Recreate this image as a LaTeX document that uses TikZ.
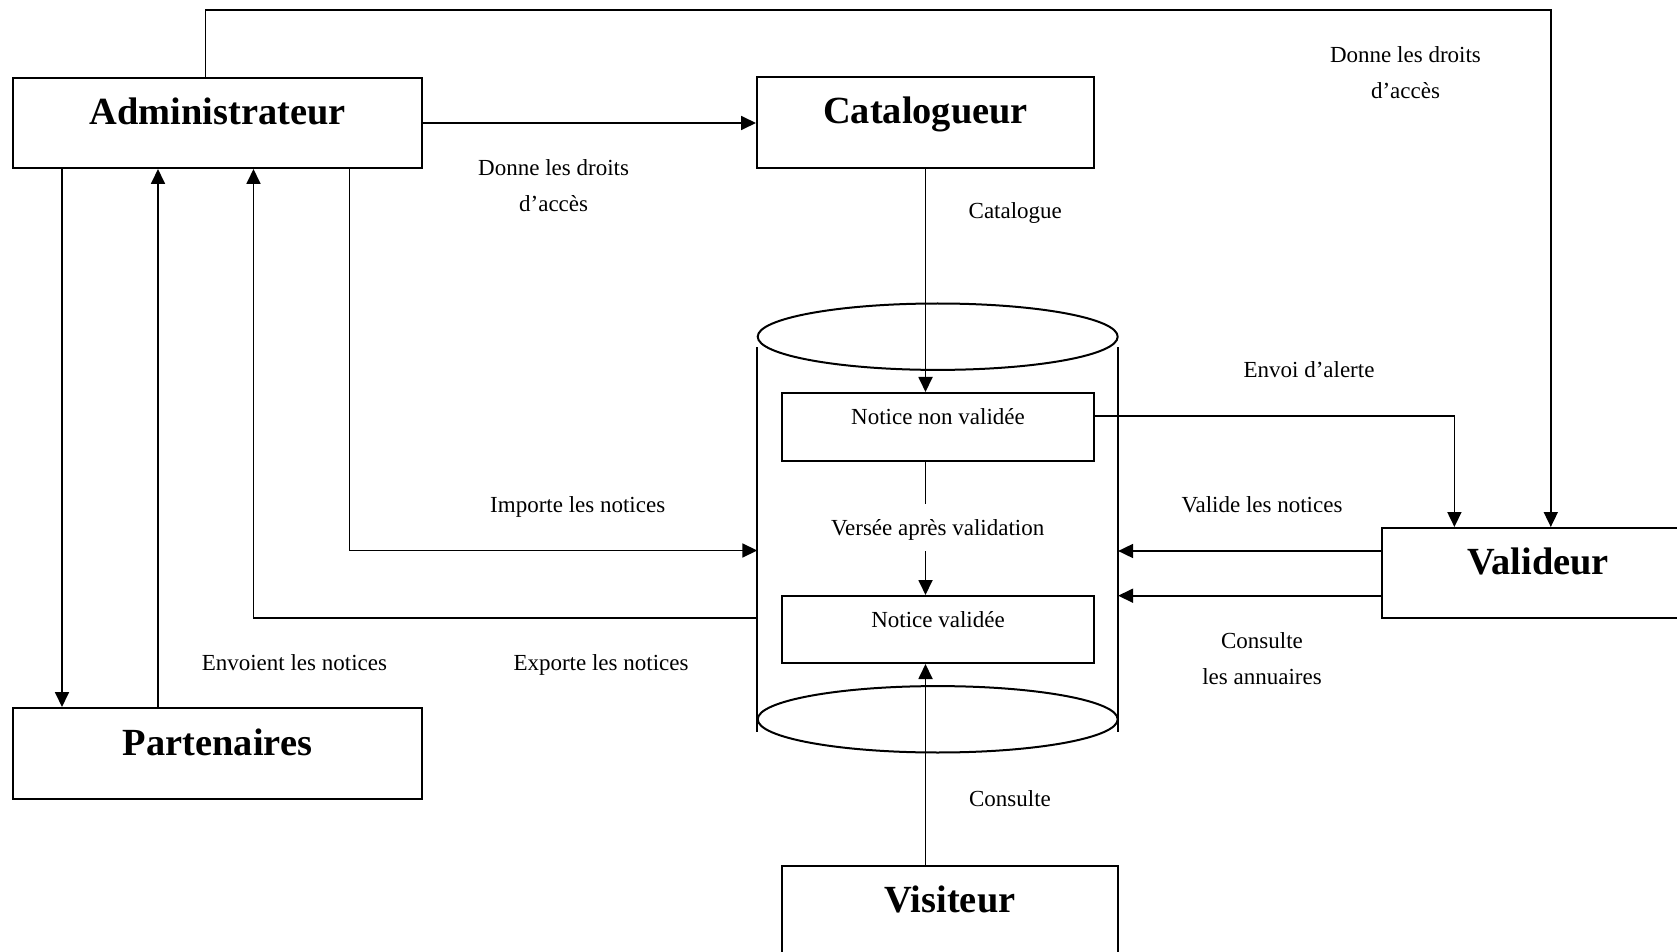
\documentclass[tikz,border=0pt]{standalone}
\usepackage{fontspec}
\setmainfont{Liberation Serif}
\usetikzlibrary{arrows.meta}
\begin{document}
\begin{tikzpicture}[x=0.5pt,y=-0.5pt,
  >={Triangle[length=7.5pt,width=7pt]},
  actor/.style={draw,line width=1pt,inner sep=0pt,
    font=\fontsize{19.2pt}{23pt}\selectfont\bfseries,
    text height=7.5pt,text depth=6pt},
  store/.style={draw,line width=1pt,inner sep=0pt,
    font=\fontsize{11.5pt}{14pt}\selectfont,
    text height=4pt,text depth=6.5pt,minimum width=156pt},
  lbl/.style={font=\fontsize{11.5pt}{18pt}\selectfont,inner sep=0pt,
    anchor=base,align=center},
  link/.style={line width=0.9pt}]
\useasboundingbox (0,0) rectangle (1677,952);

% actors
\node[actor,minimum width=204.5pt,minimum height=45pt] (admin) at (217.5,123) {Administrateur};
\node[actor,minimum width=168.5pt,minimum height=45.5pt] (catal) at (925.5,122.5) {Catalogueur};
\node[actor,minimum width=204.5pt,minimum height=45.5pt] (part) at (217.5,753.5) {Partenaires};
\node[actor,minimum width=156pt,minimum height=45pt] (valid) at (1538,573) {Valideur};
\node[actor,minimum width=168pt,minimum height=45pt] (visit) at (950,911) {Visiteur};

% database cylinder
\node[minimum width=180pt,minimum height=192pt,inner sep=0pt] (db) at (937.7,539.7) {};
\draw[line width=1pt] (937.7,336.7) ellipse [x radius=90pt,y radius=16.6pt];
\draw[line width=1pt] (937.7,719.3) ellipse [x radius=90pt,y radius=16.6pt];
\draw[line width=1pt] (db.north west) -- (db.south west);
\draw[line width=1pt] (db.north east) -- (db.south east);

% records inside the store
\node[store,minimum height=34pt] (nnv) at (938,427) {Notice non validée};
\node[store,minimum height=33.5pt] (nv) at (938,629.5) {Notice validée};
\node[lbl,text height=15.5pt,text depth=7.85pt] (vers) at (937.7,535.3) {Versée après validation};

% flows
\coordinate (ceil) at (0,10);
\coordinate (vtop) at ([xshift=6.4pt]valid.north);
\draw[link,->] ([xshift=-6pt]admin.north) |- (ceil -| vtop) -- (vtop);
\draw[link,->] (admin.east) -- (admin.east -| catal.west);
\draw[link,->] ([xshift=-77.75pt]admin.south) -- ([xshift=-77.75pt]admin.south |- part.north);
\draw[link,->] ([xshift=-29.75pt]part.north) -- ([xshift=-29.75pt]part.north |- admin.south);
\draw[link,->] ([yshift=-39.3pt]db.west) -| ([xshift=18pt]admin.south);
\draw[link,->] ([xshift=66pt]admin.south) |- ([yshift=-5.4pt]db.west);
\draw[link,->] (catal.south) -- (catal.south |- nnv.north);
\draw[link] (catal.south |- nnv.south) -- (catal.south |- vers.north);
\draw[link,->] (catal.south |- vers.south) -- (catal.south |- nv.north);
\draw[link,->] (catal.south |- visit.north) -- (catal.south |- nv.south);
\draw[link,->] ([yshift=5.65pt]nnv.east) -| ([xshift=-41.8pt]valid.north);
\draw[link,->] ([yshift=11pt]valid.west) -- ([yshift=11pt]valid.west -| db.east);
\draw[link,->] ([yshift=-11.35pt]valid.west) -- ([yshift=-11.35pt]valid.west -| db.east);

% flow labels (two-line labels sit on the baseline of their last line)
\node[lbl] (lac) at (553.6,211.7) {Donne les droits\\d’accès};
\node[lbl] (lav) at (1405.5,98.3) {Donne les droits\\d’accès};
\node[lbl] (lcat) at (1015.3,219) {Catalogue};
\node[lbl] (lalert) at (1309,377.7) {Envoi d’alerte};
\node[lbl] (limp) at (577.7,512.7) {Importe les notices};
\node[lbl] (lval) at (1262,512.3) {Valide les notices};
\node[lbl] (lann) at (1262,684.3) {Consulte\\les annuaires};
\node[lbl] (lenv) at (294.4,670.7) {Envoient les notices};
\node[lbl] (lexp) at (601,670.7) {Exporte les notices};
\node[lbl] (lcons) at (1010,806) {Consulte};
\end{tikzpicture}
\end{document}
